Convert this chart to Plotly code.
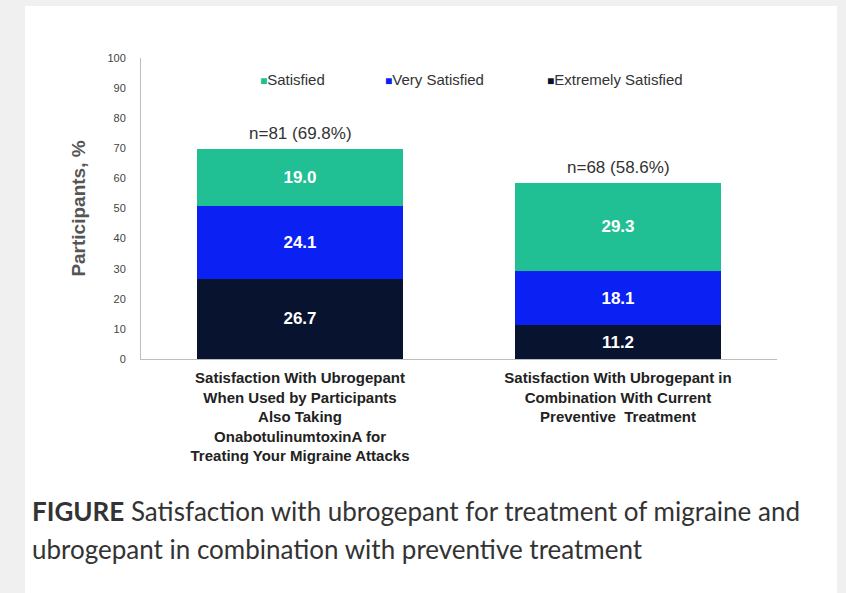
import plotly.graph_objects as go

# Data
categories = [
    "Satisfaction With Ubrogepant<br>When Used by Participants<br>Also Taking<br>OnabotulinumtoxinA for<br>Treating Your Migraine Attacks",
    "Satisfaction With Ubrogepant in<br>Combination With Current<br>Preventive  Treatment",
]
extremely_satisfied = [26.7, 11.2]
very_satisfied = [24.1, 18.1]
satisfied = [19.0, 29.3]
n_labels = ["n=81 (69.8%)", "n=68 (58.6%)"]
y_ticks = [0, 10, 20, 30, 40, 50, 60, 70, 80, 90, 100]

# Colours
c_sat = "#21bf94"
c_very = "#0b20f2"
c_ext = "#08132f"

series = [
    ("Extremely Satisfied", extremely_satisfied, c_ext),
    ("Very Satisfied", very_satisfied, c_very),
    ("Satisfied", satisfied, c_sat),
]

fig = go.Figure()
for name, vals, col in series:
    fig.add_trace(go.Bar(
        x=categories, y=vals, name=name,
        marker=dict(color=col, line=dict(width=0)),
        texttemplate="%{y:.1f}", textposition="inside",
        insidetextanchor="middle", textangle=0,
        textfont=dict(family="Arial", size=17, color="white", weight="bold"),
        showlegend=False,
    ))

totals = [round(a + b + c, 1) for a, b, c in zip(extremely_satisfied, very_satisfied, satisfied)]

annotations = []
for cat, tot, lab in zip(categories, totals, n_labels):
    annotations.append(dict(
        x=cat, y=tot, text=lab, showarrow=False, xanchor="center",
        yanchor="bottom", yshift=4,
        font=dict(family="Arial", size=17, color="#333333"),
    ))

# Legend row (coloured square + label)
legend_items = [("Satisfied", c_sat), ("Very Satisfied", c_very), ("Extremely Satisfied", c_ext)]
legend_x = [0.1840, 0.3800, 0.6350]
for (name, col), lx in zip(legend_items, legend_x):
    annotations.append(dict(
        xref="paper", yref="paper", x=lx, y=0.927, xanchor="left", yanchor="middle",
        text=f"<span style='color:{col};font-size:12px'>■</span>{name}",
        showarrow=False, font=dict(family="Arial", size=15, color="#333333"),
    ))

# Caption
cap_font = dict(family="Lato", size=26, color="#333333")
annotations.append(dict(
    xref="paper", yref="paper", x=-0.1745, y=-0.505, xanchor="left", yanchor="middle",
    text="<b>FIGURE</b> Satisfaction with ubrogepant for treatment of migraine and",
    showarrow=False, font=cap_font,
))
annotations.append(dict(
    xref="paper", yref="paper", x=-0.1745, y=-0.631, xanchor="left", yanchor="middle",
    text="ubrogepant in combination with preventive treatment",
    showarrow=False, font=cap_font,
))

fig.update_layout(
    width=846, height=593,
    margin=dict(l=141, r=69, t=58, b=234),
    paper_bgcolor="#f0f0f0",
    plot_bgcolor="white",
    barmode="stack",
    bargap=0.352,
    annotations=annotations,
    shapes=[dict(
        type="rect", xref="paper", yref="paper",
        x0=-0.1824, x1=1.0943, y0=-0.85, y1=1.1728,
        fillcolor="white", line=dict(width=0), layer="below",
    )],
    font=dict(family="Arial"),
)

fig.update_yaxes(
    range=[0, 100], tickvals=y_ticks, showgrid=False, zeroline=False,
    showline=True, linecolor="#bdbdbd", linewidth=1,
    ticks="", ticklabelstandoff=12,
    tickfont=dict(family="Arial", size=11, color="#444444"),
    title=dict(text="<b>Participants, %</b>", standoff=16,
               font=dict(family="Arial", size=19, color="#555555")),
)
fig.update_xaxes(
    showgrid=False, zeroline=False, showline=True, linecolor="#bdbdbd", linewidth=1,
    ticks="", ticklabelstandoff=5,
    tickfont=dict(family="Arial", size=15, color="#222222", weight="bold"),
)

fig.write_html("out.html")
